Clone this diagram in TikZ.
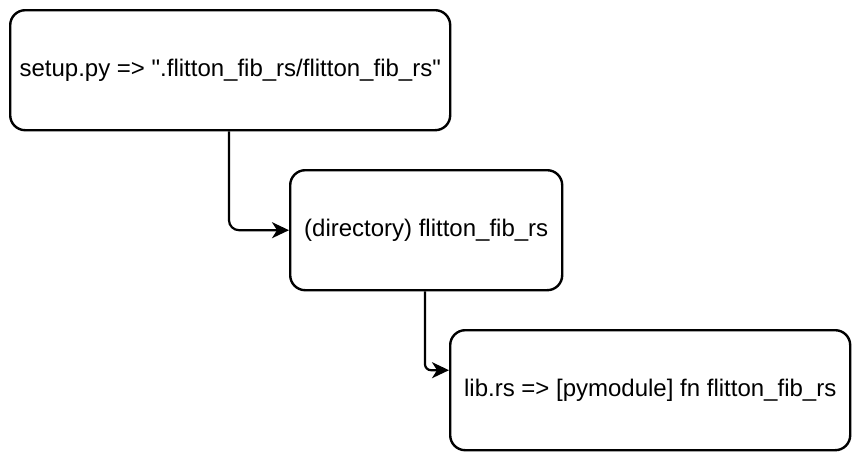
\documentclass[tikz,border=0pt]{standalone}
\usepackage{fontspec}
\setmainfont{Liberation Sans}[Ligatures={TeXOff,NoCommon}]
\newcommand{\boxfont}{\fontsize{24pt}{28pt}\selectfont}
\usetikzlibrary{arrows.meta}
\begin{document}
\begin{tikzpicture}[x=1pt,y=-1pt,
  boxnode/.style={draw=black, line width=2.4pt, rounded corners=15pt, fill=white, anchor=north west, inner sep=0pt, font=\boxfont},
  conn/.style={draw=black, line width=2.2pt, rounded corners=10pt, -{Stealth[length=17pt,width=16pt,inset=5pt]}}]
\useasboundingbox (0,0) rectangle (858,458);
\node[boxnode, minimum width=440pt, minimum height=120pt] (a) at (9,9) {setup.py => ".flitton\_fib\_rs/flitton\_fib\_rs"};
\node[boxnode, minimum width=272pt, minimum height=120pt] (b) at (289,169) {(directory) flitton\_fib\_rs};
\node[boxnode, minimum width=400pt, minimum height=120pt] (c) at (449,329) {lib.rs => [pymodule] fn flitton\_fib\_rs};
\draw[conn] (a.south -| 229,0) |- (b.west);
\draw[conn, rounded corners=6pt] (b.south -| 425,0) |- ([yshift=20pt]c.west);
\end{tikzpicture}
\end{document}
